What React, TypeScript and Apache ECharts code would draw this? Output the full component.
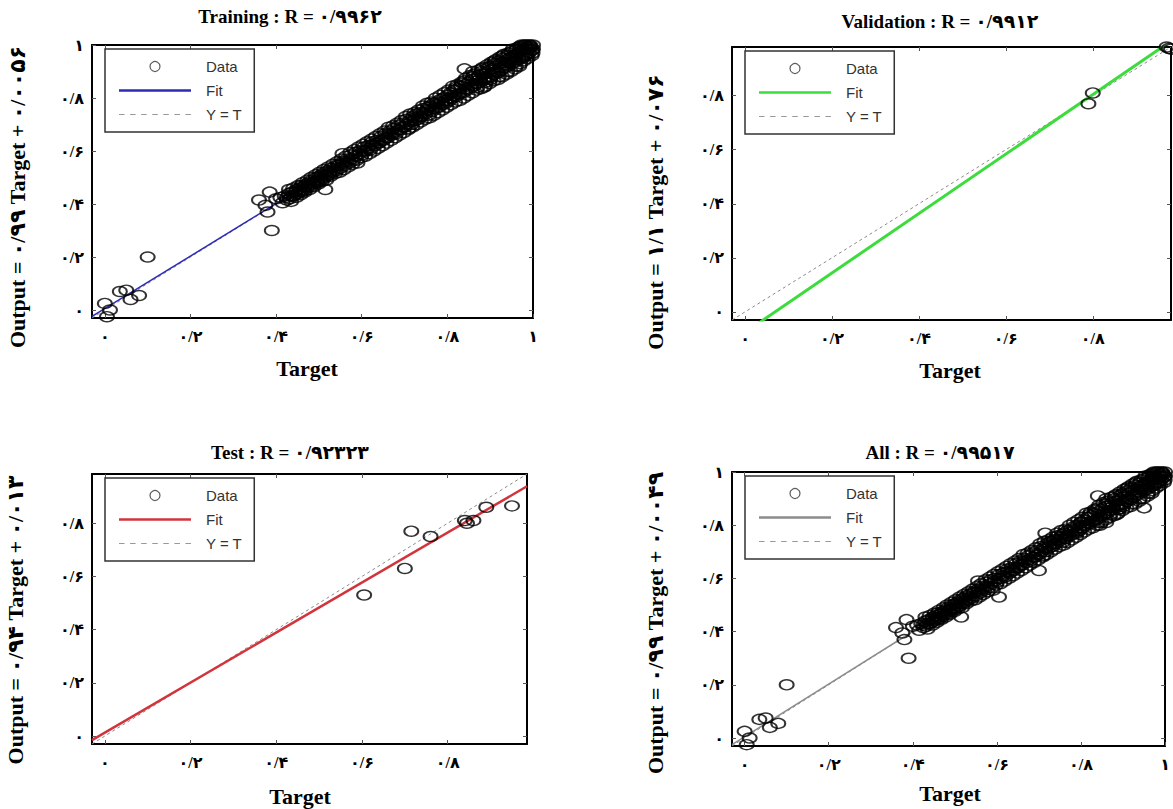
import React, { useEffect, useRef } from 'react';
import * as echarts from 'echarts';

const FA_DIGITS = '۰۱۲۳۴۵۶۷۸۹';
const toFa = (s: string) => s.replace(/[0-9]/g, (d) => FA_DIGITS[+d]).replace('.', '/');

const tickValues = [0, 0.2, 0.4, 0.6, 0.8, 1];

// [Target, Output]
const trainingPoints: [number, number][] = [
  [0.0, 0.025], [0.005, -0.025], [0.035, 0.07], [0.05, 0.075], [0.06, 0.04], [0.08, 0.055], [0.1, 0.2], [0.012, 0.0],
  [0.36, 0.415], [0.385, 0.445], [0.4, 0.42], [0.38, 0.37], [0.39, 0.3], [0.375, 0.395],
  [0.41, 0.425], [0.415, 0.405], [0.42, 0.43], [0.425, 0.415], [0.43, 0.44], [0.432, 0.42], [0.437, 0.445], [0.44, 0.43],
  [0.445, 0.435], [0.448, 0.455], [0.45, 0.44], [0.455, 0.46], [0.458, 0.445], [0.46, 0.47], [0.463, 0.455], [0.466, 0.45],
  [0.47, 0.475], [0.472, 0.46], [0.476, 0.48], [0.48, 0.465], [0.483, 0.49], [0.486, 0.475], [0.49, 0.485], [0.493, 0.5],
  [0.496, 0.48], [0.5, 0.505], [0.503, 0.49], [0.506, 0.51], [0.51, 0.495], [0.513, 0.52], [0.515, 0.455], [0.518, 0.505],
  [0.52, 0.525], [0.524, 0.51], [0.528, 0.535], [0.532, 0.52], [0.536, 0.54], [0.54, 0.525], [0.545, 0.55], [0.55, 0.535],
  [0.555, 0.59], [0.556, 0.56], [0.56, 0.545], [0.565, 0.57], [0.57, 0.555], [0.575, 0.585], [0.58, 0.565], [0.585, 0.595],
  [0.59, 0.555], [0.595, 0.6], [0.6, 0.585], [0.605, 0.615], [0.61, 0.6], [0.615, 0.62], [0.62, 0.605], [0.625, 0.635],
  [0.63, 0.62], [0.635, 0.64], [0.64, 0.63], [0.645, 0.655], [0.65, 0.64], [0.655, 0.665], [0.66, 0.65], [0.665, 0.675],
  [0.67, 0.66], [0.675, 0.685], [0.68, 0.665], [0.685, 0.695], [0.69, 0.68], [0.695, 0.705], [0.7, 0.69], [0.705, 0.72],
  [0.71, 0.685], [0.712, 0.715], [0.716, 0.7], [0.72, 0.73], [0.724, 0.715], [0.728, 0.74], [0.732, 0.72], [0.736, 0.745],
  [0.74, 0.73], [0.744, 0.76], [0.748, 0.74], [0.752, 0.755], [0.756, 0.735], [0.76, 0.77], [0.764, 0.75], [0.768, 0.78],
  [0.772, 0.76], [0.776, 0.785], [0.78, 0.765], [0.784, 0.795], [0.788, 0.775], [0.792, 0.8], [0.796, 0.78], [0.8, 0.81],
  [0.804, 0.79], [0.808, 0.82], [0.812, 0.8], [0.816, 0.83], [0.82, 0.805], [0.824, 0.835], [0.828, 0.815], [0.832, 0.845],
  [0.836, 0.82], [0.84, 0.91], [0.842, 0.85], [0.846, 0.83], [0.85, 0.86], [0.854, 0.84], [0.858, 0.87], [0.862, 0.845],
  [0.866, 0.875], [0.87, 0.855], [0.874, 0.885], [0.878, 0.86], [0.882, 0.89], [0.885, 0.84], [0.886, 0.87], [0.89, 0.895],
  [0.894, 0.875], [0.898, 0.905], [0.902, 0.88], [0.906, 0.91], [0.91, 0.89], [0.914, 0.92], [0.918, 0.895], [0.922, 0.93],
  [0.926, 0.905], [0.93, 0.935], [0.934, 0.915], [0.938, 0.945], [0.942, 0.92], [0.946, 0.95], [0.95, 0.93], [0.954, 0.96],
  [0.958, 0.935], [0.962, 0.965], [0.966, 0.945], [0.97, 0.93], [0.97, 0.975], [0.974, 0.95], [0.978, 0.98], [0.982, 0.96],
  [0.986, 0.99], [0.99, 0.97], [0.994, 0.995], [0.998, 0.98], [1.0, 1.0],
  [0.9, 0.92], [0.92, 0.94], [0.94, 0.96], [0.96, 0.98], [0.98, 1.0], [0.95, 0.975], [0.97, 0.99], [0.99, 1.0],
  [0.93, 0.95], [0.91, 0.93], [0.88, 0.9], [0.86, 0.88], [0.84, 0.865], [0.82, 0.84], [0.96, 0.955], [0.985, 0.975],
  [0.995, 0.99], [0.975, 0.96], [0.945, 0.935], [0.925, 0.915], [0.905, 0.895], [0.885, 0.875], [0.865, 0.855], [0.845, 0.835],
  [0.825, 0.815], [0.805, 0.8], [0.785, 0.78], [0.765, 0.76], [0.745, 0.745], [0.725, 0.725], [0.705, 0.7], [0.685, 0.68],
  [0.665, 0.665], [0.645, 0.64], [0.625, 0.625], [0.605, 0.6], [0.585, 0.58], [0.565, 0.56], [0.545, 0.545], [0.525, 0.52],
  [0.505, 0.5], [0.485, 0.48], [0.465, 0.465], [0.445, 0.445], [0.425, 0.425],
  [0.43, 0.455], [0.435, 0.41], [0.44, 0.46], [0.447, 0.425], [0.452, 0.47], [0.457, 0.435], [0.462, 0.48], [0.467, 0.445],
  [0.473, 0.49], [0.478, 0.455], [0.482, 0.5], [0.488, 0.465], [0.492, 0.51], [0.498, 0.475], [0.502, 0.52], [0.507, 0.485],
  [0.512, 0.53], [0.517, 0.49], [0.522, 0.54], [0.527, 0.505], [0.533, 0.55], [0.538, 0.515], [0.543, 0.56], [0.548, 0.52],
  [0.553, 0.57], [0.558, 0.53], [0.563, 0.58], [0.568, 0.54], [0.573, 0.595], [0.578, 0.55], [0.583, 0.605], [0.588, 0.565],
  [0.593, 0.615], [0.598, 0.575], [0.603, 0.625], [0.608, 0.58], [0.613, 0.635], [0.618, 0.59], [0.623, 0.645], [0.628, 0.6],
  [0.633, 0.655], [0.638, 0.61], [0.643, 0.665], [0.648, 0.62], [0.653, 0.675], [0.658, 0.63], [0.663, 0.69], [0.668, 0.64],
  [0.673, 0.695], [0.678, 0.65], [0.683, 0.705], [0.688, 0.66], [0.693, 0.715], [0.698, 0.67], [0.703, 0.73], [0.708, 0.68],
  [0.713, 0.74], [0.718, 0.69], [0.723, 0.745], [0.728, 0.7], [0.733, 0.755], [0.738, 0.71], [0.743, 0.77], [0.748, 0.72],
  [0.753, 0.78], [0.758, 0.725], [0.763, 0.785], [0.768, 0.735], [0.773, 0.8], [0.778, 0.745], [0.783, 0.81], [0.788, 0.755],
  [0.793, 0.82], [0.798, 0.765], [0.803, 0.83], [0.808, 0.775], [0.813, 0.845], [0.818, 0.785], [0.823, 0.85], [0.828, 0.79],
  [0.833, 0.86], [0.838, 0.8], [0.843, 0.875], [0.848, 0.81], [0.853, 0.885], [0.858, 0.82], [0.863, 0.89], [0.868, 0.83],
  [0.873, 0.905], [0.878, 0.835], [0.883, 0.915], [0.888, 0.845], [0.893, 0.925], [0.898, 0.855], [0.903, 0.935], [0.908, 0.865],
  [0.913, 0.945], [0.918, 0.87], [0.923, 0.955], [0.928, 0.88], [0.933, 0.965], [0.938, 0.89], [0.943, 0.97], [0.948, 0.9],
  [0.953, 0.985], [0.958, 0.91], [0.963, 0.99], [0.968, 0.92], [0.973, 1.0], [0.978, 0.94], [0.983, 1.0], [0.988, 0.95],
  [0.993, 1.0], [0.997, 0.96], [1.0, 0.985], [0.999, 0.97],
  [0.86, 0.9], [0.87, 0.84], [0.88, 0.91], [0.89, 0.86], [0.9, 0.87], [0.91, 0.94], [0.92, 0.88], [0.93, 0.96],
  [0.94, 0.9], [0.95, 0.95], [0.96, 0.92], [0.97, 0.995], [0.98, 0.955], [0.99, 0.985], [0.955, 0.94], [0.965, 0.97],
  [0.975, 0.985], [0.985, 0.965], [0.935, 0.925], [0.915, 0.9], [0.895, 0.915], [0.875, 0.87], [0.855, 0.85], [0.835, 0.855],
  [0.815, 0.81], [0.795, 0.79], [0.775, 0.775], [0.755, 0.765], [0.735, 0.73], [0.715, 0.71], [0.695, 0.69], [0.675, 0.67],
  [0.655, 0.65], [0.635, 0.63], [0.615, 0.61], [0.595, 0.59], [0.575, 0.57], [0.555, 0.55], [0.535, 0.53], [0.515, 0.51],
  [0.495, 0.49], [0.475, 0.47], [0.455, 0.45], [0.435, 0.43],
];

const validationPoints: [number, number][] = [
  [0.79, 0.77], [0.8, 0.81], [0.975, 0.975], [0.97, 0.98], [0.98, 0.972],
];

const testPoints: [number, number][] = [
  [0.605, 0.53], [0.7, 0.63], [0.715, 0.77], [0.76, 0.75], [0.845, 0.8], [0.86, 0.81], [0.89, 0.86], [0.95, 0.865], [0.84, 0.81],
];

const allPoints: [number, number][] = [...trainingPoints, ...validationPoints, ...testPoints];

// [slope, intercept]
const trainingFit = [0.99, 0.0056];
const validationFit = [1.1, -0.076];
const testFit = [0.94, 0.013];
const allFit = [0.99, 0.0049];

// axis limits [min, max]
const trainingLimits = [-0.03, 1.0];
const validationLimits = [-0.03, 0.98];
const testLimits = [-0.03, 0.985];
const allLimits = [-0.03, 1.0];

const titles = [
  'Training : R = ۰/۹۹۶۲',
  'Validation : R = ۰/۹۹۱۲',
  'Test : R = ۰/۹۲۳۲۳',
  'All : R = ۰/۹۹۵۱۷',
];
const yNames = [
  'Output = ۰/۹۹ Target + ۰/۰۰۵۶',
  'Output = ۱/۱ Target + ۰/۰۷۶',
  'Output = ۰/۹۴ Target + ۰/۰۱۳',
  'Output = ۰/۹۹ Target + ۰/۰۰۴۹',
];
const legendNames = ['Data', 'Fit', 'Y = T'];

const panels = [
  { points: trainingPoints, fit: trainingFit, lim: trainingLimits, color: '#2b2bb5', fitWidth: 1.5,
    grid: { left: 92, top: 45, width: 441, height: 273 }, titlePos: [290, 16], yNamePos: [17, 197], xNamePos: [307, 368] },
  { points: validationPoints, fit: validationFit, lim: validationLimits, color: '#3ddc3d', fitWidth: 3,
    grid: { left: 732, top: 47, width: 439, height: 273 }, titlePos: [940, 21], yNamePos: [655, 212], xNamePos: [950, 370] },
  { points: testPoints, fit: testFit, lim: testLimits, color: '#d2343c', fitWidth: 2.5,
    grid: { left: 92, top: 474, width: 435, height: 270 }, titlePos: [290, 452], yNamePos: [15, 620], xNamePos: [300, 796] },
  { points: allPoints, fit: allFit, lim: allLimits, color: '#8c8c8c', fitWidth: 1.5,
    grid: { left: 732, top: 472, width: 439, height: 274 }, titlePos: [940, 452], yNamePos: [655, 623], xNamePos: [950, 793] },
];

const SERIF = '"Liberation Serif", "Times New Roman", "DejaVu Sans", serif';
const SANS = '"Liberation Sans", Arial, sans-serif';

const fmt = (v: number) => toFa(String(Math.round(v * 10) / 10));

const ICON_SOLID = 'path://M0,0H28V1H0Z';
const ICON_DOTTED =
  'path://M0,0H3V0.5H0ZM6,0H9V0.5H6ZM12,0H15V0.5H12ZM18,0H21V0.5H18ZM24,0H27V0.5H24ZM30,0H33V0.5H30ZM36,0H39V0.5H36Z';

export default function App() {
  const ref = useRef<HTMLDivElement>(null);
  useEffect(() => {
    if (!ref.current) return;
    const chart = echarts.init(ref.current, null, { renderer: 'svg' });

    const grid: any[] = [];
    const xAxis: any[] = [];
    const yAxis: any[] = [];
    const series: any[] = [];
    const legend: any[] = [];
    const graphic: any[] = [];

    panels.forEach((p, i) => {
      grid.push({ ...p.grid, containLabel: false });
      const [lo, hi] = p.lim;
      const ticks = tickValues.filter((t) => t >= lo && t <= hi + 1e-9);
      const axisBase = {
        gridIndex: i, type: 'value', min: lo, max: hi,
        splitLine: { show: false },
        axisLine: { show: true, onZero: false, lineStyle: { color: '#000', width: 2 } },
        axisTick: { show: true, inside: true, length: 4, customValues: ticks, lineStyle: { color: '#555', width: 1 } },
      };
      const label = {
        show: true, customValues: ticks, formatter: fmt, color: '#000', fontSize: 16, fontWeight: 'bold', fontFamily: SERIF,
      };
      xAxis.push({ ...axisBase, position: 'bottom', axisLabel: { ...label, margin: 10 } });
      xAxis.push({ ...axisBase, position: 'top', axisLabel: { show: false } });
      yAxis.push({ ...axisBase, position: 'left', axisLabel: { ...label, margin: 8 } });
      yAxis.push({ ...axisBase, position: 'right', axisLabel: { show: false } });

      const [a, b] = p.fit;
      series.push({
        type: 'line', name: legendNames[2], xAxisIndex: 2 * i, yAxisIndex: 2 * i, symbol: 'none', silent: true,
        data: [[lo, lo], [hi, hi]], lineStyle: { color: '#8a8a8a', width: 1, type: [3, 3] }, z: 2,
      });
      series.push({
        type: 'line', name: legendNames[1], xAxisIndex: 2 * i, yAxisIndex: 2 * i, symbol: 'none', silent: true, clip: true,
        data: [[lo, a * lo + b], [hi, a * hi + b]], lineStyle: { color: p.color, width: p.fitWidth }, z: 3,
      });
      series.push({
        type: 'scatter', name: legendNames[0], xAxisIndex: 2 * i, yAxisIndex: 2 * i, symbol: 'circle', symbolSize: [14, 10],
        data: p.points, itemStyle: { color: 'rgba(0,0,0,0)', borderColor: '#000', borderWidth: 1.7 }, z: 4, silent: true,
      });

      legend.push({
        orient: 'vertical', left: p.grid.left + 13, top: p.grid.top + 4,
        padding: [10, 12, 10, 14], itemGap: 9, itemWidth: 72, itemHeight: 10,
        backgroundColor: '#fff', borderColor: '#333', borderWidth: 1.5, borderRadius: 0,
        selectedMode: false,
        textStyle: { fontFamily: SANS, fontSize: 15, color: '#333', width: 58, padding: [0, 0, 0, 10] },
        data: [
          { name: legendNames[0], itemStyle: { color: 'rgba(0,0,0,0)', borderColor: '#333', borderWidth: 1.2 } },
          { name: legendNames[1], icon: ICON_SOLID, itemStyle: { color: p.color, borderWidth: 0 } },
          { name: legendNames[2], icon: ICON_DOTTED, itemStyle: { color: '#999', borderWidth: 0 } },
        ],
        z: 10,
      });

      graphic.push({
        type: 'text', x: p.titlePos[0], y: p.titlePos[1],
        style: { text: titles[i], fontFamily: SERIF, fontSize: 19, fontWeight: 'bold', fill: '#000', textAlign: 'center', textVerticalAlign: 'middle' },
      });
      graphic.push({
        type: 'text', x: p.xNamePos[0], y: p.xNamePos[1],
        style: { text: 'Target', fontFamily: SERIF, fontSize: 22, fontWeight: 'bold', fill: '#000', textAlign: 'center', textVerticalAlign: 'middle' },
      });
      graphic.push({
        type: 'text', x: p.yNamePos[0], y: p.yNamePos[1], rotation: Math.PI / 2,
        style: { text: yNames[i], fontFamily: SERIF, fontSize: 22, fontWeight: 'bold', fill: '#000', textAlign: 'center', textVerticalAlign: 'middle' },
      });
    });

    chart.setOption({
      animation: false,
      backgroundColor: '#fff',
      grid, xAxis, yAxis, series, legend, graphic,
    });
    return () => chart.dispose();
  }, []);

  return <div ref={ref} style={{ position: 'fixed', left: 0, top: 0, width: 1173, height: 809 }} />;
}
